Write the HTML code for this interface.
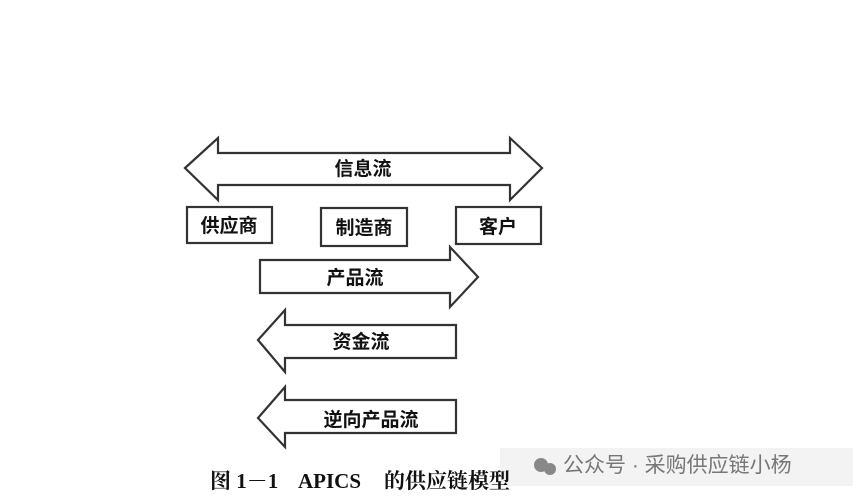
<!DOCTYPE html>
<html><head><meta charset="utf-8"><style>
html,body{margin:0;padding:0;background:#fff;}
body{width:853px;height:502px;overflow:hidden;position:relative;}
svg{position:absolute;left:0;top:0;}
</style></head><body>
<svg width="853" height="502" viewBox="0 0 853 502" xmlns="http://www.w3.org/2000/svg">
<rect x="500" y="448" width="353" height="38" fill="#f3f3f3"/>
<g fill="#fff" stroke="#333" stroke-width="2.2" stroke-linejoin="miter">
<polygon points="185,168 218,138 218,153 510,153 510,138 542,168 510,200 510,185 218,185 218,200"/>
<rect x="187" y="207" width="85" height="36"/>
<rect x="321" y="208" width="86" height="38"/>
<rect x="456" y="207" width="85" height="37"/>
<polygon points="260,260 450,260 450,247 478,277 450,307 450,293 260,293"/>
<polygon points="258,340 285,310 285,325 456,325 456,358 285,358 285,372"/>
<polygon points="258,418 285,387 285,400 456,400 456,433 285,433 285,447"/>
</g>
<g font-family="Liberation Sans, Noto Sans CJK SC, sans-serif" font-weight="bold" font-size="19" fill="#111" text-anchor="middle">
<text x="363" y="175">信息流</text>
<text x="229" y="232">供应商</text>
<text x="364" y="234">制造商</text>
<text x="498" y="233">客户</text>
<text x="355" y="284">产品流</text>
<text x="361" y="348">资金流</text>
<text x="371" y="426">逆向产品流</text>
</g>
<g font-family="Liberation Serif, Noto Serif CJK SC, serif" font-weight="bold" font-size="21" fill="#111">
<text x="210" y="488">图 1－1</text>
<text x="298" y="488">APICS</text>
<text x="384" y="488">的供应链模型</text>
</g>
<circle cx="541" cy="465" r="7" fill="#888"/><circle cx="550" cy="469" r="6" fill="#888"/>
<text x="563" y="472" font-family="Liberation Sans, Noto Sans CJK SC, sans-serif" font-size="21" fill="#777">公众号 · 采购供应链小杨</text>
</svg>
</body></html>
